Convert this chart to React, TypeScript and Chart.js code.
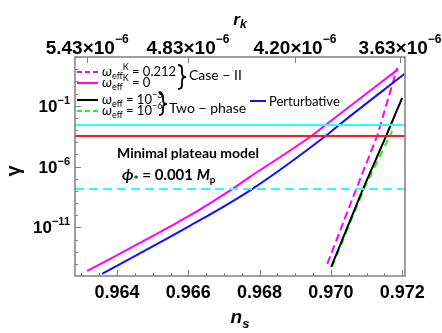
import React, { useEffect, useRef } from "react";
import { Chart, registerables } from "chart.js";
Chart.register(...registerables);

// ---- axis ranges ----
const X_MIN = 0.96282;
const X_MAX = 0.97208;
const Y_MIN = 1e-15;
const Y_MAX = 1e3;

// ---- tick labels ----
const xTicks = [0.964, 0.966, 0.968, 0.97, 0.972];
const yTickExps = [-1, -6, -11];
const topTickNs = [0.96316, 0.96599, 0.96899, 0.97194];
const topTickLabels = ["5.43", "4.83", "4.20", "3.63"];
const topTickExp = "−6";

// ---- series ----
// Case-II, omega_eff^K = 0 (solid magenta)
const nsCaseIIK0 = [0.96316, 0.96597, 0.96723, 0.96773, 0.96945, 0.96985, 0.97189];
const yCaseIIK0 = [2.6e-15, 7.1e-11, 1.4e-8, 1.4e-7, 3.2e-4, 2.6e-3, 1.0e2];
// Case-II, omega_eff^K = 0.212 (dashed magenta)
const nsCaseIIK212 = [0.9699, 0.97071, 0.9713, 0.97186];
const yCaseIIK212 = [9.8e-15, 1.4e-8, 3.2e-4, 1.25e2];
// Two-phase, omega_eff = 1e-3 (black)
const nsTwoPhase3 = [0.97001, 0.9709, 0.97155, 0.972];
const yTwoPhase3 = [5.5e-15, 1.4e-8, 3.2e-4, 0.43];
// Two-phase, omega_eff = 1e-6 (dashed green)
const nsTwoPhase6 = [0.97003, 0.97093, 0.97172];
const yTwoPhase6 = [5.5e-15, 1.4e-8, 8.3e-4];
// Perturbative (blue)
const nsPert = [0.96358, 0.96599, 0.96779, 0.96985, 0.97023, 0.97206];
const yPert = [1.5e-15, 1.07e-11, 1.4e-8, 3.2e-4, 2.6e-3, 40];
// horizontal reference levels
const levelCyan = 2.6e-3;
const levelRed = 3.2e-4;
const levelCyanDashed = 1.4e-8;

const MAGENTA = "#ff00ff";
const BLUE = "#1010ff";
const GREEN = "#22ee22";
const CYAN = "#22ffff";
const RED = "#ff1a1a";
const GRAY = "#7f7f7f";

const LABEL_FONT = '"Liberation Sans", Arial, sans-serif';
const TEXT_FONT = 'Lato, "Open Sans", sans-serif';

type Run = { t: string; size: number; dy?: number; style?: string; weight?: string; fam?: string };

function drawRuns(
  ctx: CanvasRenderingContext2D,
  x: number,
  y: number,
  runs: Run[],
  fam: string,
  align: "left" | "center" | "right" = "left"
) {
  const f = (r: Run) => `${r.style || "normal"} ${r.weight || "normal"} ${r.size}px ${r.fam || fam}`;
  ctx.textAlign = "left";
  ctx.textBaseline = "alphabetic";
  let w = 0;
  for (const r of runs) {
    ctx.font = f(r);
    w += ctx.measureText(r.t).width;
  }
  let cx = align === "center" ? x - w / 2 : align === "right" ? x - w : x;
  for (const r of runs) {
    ctx.font = f(r);
    ctx.fillText(r.t, cx, y + (r.dy || 0));
    cx += ctx.measureText(r.t).width;
  }
  return cx;
}

function drawBrace(ctx: CanvasRenderingContext2D, x: number, y0: number, y1: number, w: number) {
  const ym = (y0 + y1) / 2;
  const r = 4;
  const xm = x + w / 2;
  ctx.beginPath();
  ctx.moveTo(x, y0);
  ctx.quadraticCurveTo(xm, y0, xm, y0 + r);
  ctx.lineTo(xm, ym - r);
  ctx.quadraticCurveTo(xm, ym, x + w, ym);
  ctx.quadraticCurveTo(xm, ym, xm, ym + r);
  ctx.lineTo(xm, y1 - r);
  ctx.quadraticCurveTo(xm, y1, x, y1);
  ctx.stroke();
}

function pts(xs: number[], ys: number[]) {
  return xs.map((x, i) => ({ x, y: ys[i] }));
}

const deco = {
  id: "deco",
  afterDatasetsDraw(chart: any) {
    const ctx: CanvasRenderingContext2D = chart.ctx;
    const { left, right, top, bottom } = chart.chartArea;
    const xs = chart.scales.x;
    const ys = chart.scales.y;
    ctx.save();

    // frame
    ctx.strokeStyle = GRAY;
    ctx.lineWidth = 1.5;
    ctx.setLineDash([]);
    ctx.strokeRect(left, top, right - left, bottom - top);

    // ticks
    ctx.lineWidth = 1;
    ctx.beginPath();
    for (let v = 0.963; v <= X_MAX + 1e-9; v += 0.0005) {
      const px = Math.round(xs.getPixelForValue(v)) + 0.5;
      if (px < left || px > right) continue;
      const major = xTicks.some((t) => Math.abs(t - v) < 1e-7);
      const len = major ? 6 : 3;
      ctx.moveTo(px, bottom);
      ctx.lineTo(px, bottom - len);
    }
    for (const v of topTickNs) {
      const px = Math.round(xs.getPixelForValue(v)) + 0.5;
      ctx.moveTo(px, top);
      ctx.lineTo(px, top + 6);
    }
    for (let e = -15; e <= 3; e++) {
      const py = Math.round(ys.getPixelForValue(Math.pow(10, e))) + 0.5;
      if (py < top || py > bottom) continue;
      const major = yTickExps.includes(e);
      ctx.moveTo(left, py);
      ctx.lineTo(left + (major ? 6 : 3), py);
    }
    ctx.stroke();

    ctx.fillStyle = "#000";
    // bottom tick labels
    for (const v of xTicks) {
      const px = xs.getPixelForValue(v);
      drawRuns(ctx, px, bottom + 22, [{ t: v.toFixed(3), size: 18, weight: "bold" }], LABEL_FONT, "center");
    }
    // left tick labels
    for (const e of yTickExps) {
      const py = ys.getPixelForValue(Math.pow(10, e));
      drawRuns(
        ctx,
        left - 5,
        py + 6,
        [
          { t: "10", size: 17, weight: "bold" },
          { t: "−" + Math.abs(e), size: 11, weight: "bold", dy: -8 },
        ],
        LABEL_FONT,
        "right"
      );
    }
    // top tick labels
    topTickNs.forEach((v, i) => {
      const px = xs.getPixelForValue(v);
      drawRuns(
        ctx,
        px,
        top - 3,
        [
          { t: topTickLabels[i] + "×10", size: 19, weight: "bold" },
          { t: topTickExp, size: 12, weight: "bold", dy: -11 },
        ],
        LABEL_FONT,
        "center"
      );
    });

    // axis titles
    drawRuns(
      ctx,
      240,
      323,
      [
        { t: "n", size: 19, weight: "bold", style: "italic" },
        { t: "s", size: 13, weight: "bold", style: "italic", dy: 5 },
      ],
      LABEL_FONT,
      "center"
    );
    drawRuns(
      ctx,
      240,
      25,
      [
        { t: "r", size: 17, weight: "bold", style: "italic" },
        { t: "k", size: 12, weight: "bold", style: "italic", dy: 3 },
      ],
      LABEL_FONT,
      "center"
    );
    ctx.save();
    ctx.translate(20, 171);
    ctx.rotate(-Math.PI / 2);
    drawRuns(ctx, 0, 0, [{ t: "γ", size: 20, weight: "bold" }], LABEL_FONT, "center");
    ctx.restore();

    // legend lines
    const legLine = (x1: number, x2: number, y: number, color: string, dash: number[]) => {
      ctx.beginPath();
      ctx.strokeStyle = color;
      ctx.lineWidth = 2;
      ctx.setLineDash(dash);
      ctx.moveTo(x1, y);
      ctx.lineTo(x2, y);
      ctx.stroke();
    };
    legLine(77, 98, 72, MAGENTA, [5, 3]);
    legLine(77, 98, 83, MAGENTA, []);
    legLine(77, 98, 100, "#000", []);
    legLine(77, 98, 111, GREEN, [5, 3]);
    legLine(250, 266, 101, BLUE, []);
    ctx.setLineDash([]);

    ctx.fillStyle = "#000";
    const omega = (extra: Run[]): Run[] => [
      { t: "ω", size: 14, style: "italic" },
      { t: "eff", size: 9, dy: 3 },
      ...extra,
    ];
    drawRuns(ctx, 102, 76, omega([{ t: "K", size: 9, dy: -6 }, { t: " = 0.212", size: 13 }]), TEXT_FONT);
    drawRuns(ctx, 102, 87, omega([{ t: "K", size: 9, dy: -6 }, { t: " = 0", size: 13 }]), TEXT_FONT);
    drawRuns(ctx, 102, 104, omega([{ t: " = 10", size: 13 }, { t: "−3", size: 9, dy: -6 }]), TEXT_FONT);
    drawRuns(ctx, 102, 115, omega([{ t: " = 10", size: 13 }, { t: "−6", size: 9, dy: -6 }]), TEXT_FONT);

    // braces
    ctx.strokeStyle = "#000";
    ctx.lineWidth = 1.8;
    drawBrace(ctx, 178, 65, 89, 8);
    drawBrace(ctx, 159, 93, 115, 8);

    drawRuns(ctx, 189, 80, [{ t: "Case − II", size: 14 }], TEXT_FONT);
    drawRuns(ctx, 169, 113, [{ t: "Two − phase", size: 14 }], TEXT_FONT);
    drawRuns(ctx, 269, 106, [{ t: "Perturbative", size: 13 }], TEXT_FONT);

    drawRuns(ctx, 117, 158, [{ t: "Minimal plateau model", size: 14, weight: "bold" }], TEXT_FONT);
    drawRuns(
      ctx,
      122,
      180,
      [
        { t: "ϕ", size: 16, style: "italic", weight: "bold" },
        { t: "*", size: 12, dy: 4, weight: "bold" },
        { t: " = 0.001 ", size: 15, weight: "bold" },
        { t: "M", size: 15, style: "italic", weight: "bold" },
        { t: "p", size: 10, dy: 3, weight: "bold" },
      ],
      TEXT_FONT
    );

    ctx.restore();
  },
};

export default function App() {
  const ref = useRef<HTMLCanvasElement | null>(null);
  useEffect(() => {
    if (!ref.current) return;
    const line = (data: any[], color: string, dash: number[] = [], extra: any = {}) => ({
      data,
      borderColor: color,
      backgroundColor: color,
      borderWidth: 2,
      borderDash: dash,
      pointRadius: 0,
      fill: false,
      ...extra,
    });
    const chart = new Chart(ref.current, {
      type: "line",
      data: {
        datasets: [
          line(pts([X_MIN, X_MAX], [levelCyan, levelCyan]), CYAN),
          line(pts([X_MIN, X_MAX], [levelRed, levelRed]), RED),
          line(pts([X_MIN, X_MAX], [levelCyanDashed, levelCyanDashed]), CYAN, [9, 5]),
          line(pts(nsPert, yPert), BLUE, [], { cubicInterpolationMode: "monotone" }),
          line(pts(nsCaseIIK0, yCaseIIK0), MAGENTA, [], { cubicInterpolationMode: "monotone" }),
          line(pts(nsCaseIIK212, yCaseIIK212), MAGENTA, [8, 4]),
          line(pts(nsTwoPhase3, yTwoPhase3), "#000"),
          line(pts(nsTwoPhase6, yTwoPhase6), GREEN, [7, 5]),
        ],
      },
      options: {
        animation: false,
        responsive: false,
        devicePixelRatio: 1,
        parsing: true,
        layout: { padding: { left: 75, right: 37, top: 57, bottom: 57 } },
        plugins: { legend: { display: false }, tooltip: { enabled: false } },
        scales: {
          x: { type: "linear", min: X_MIN, max: X_MAX, display: false },
          y: { type: "logarithmic", min: Y_MIN, max: Y_MAX, display: false },
        },
      },
      plugins: [deco],
    });
    return () => chart.destroy();
  }, []);
  return (
    <div style={{ position: "fixed", left: 0, top: 0, width: 442, height: 333, background: "#fff" }}>
      <canvas ref={ref} width={442} height={333} style={{ width: 442, height: 333 }} />
    </div>
  );
}
